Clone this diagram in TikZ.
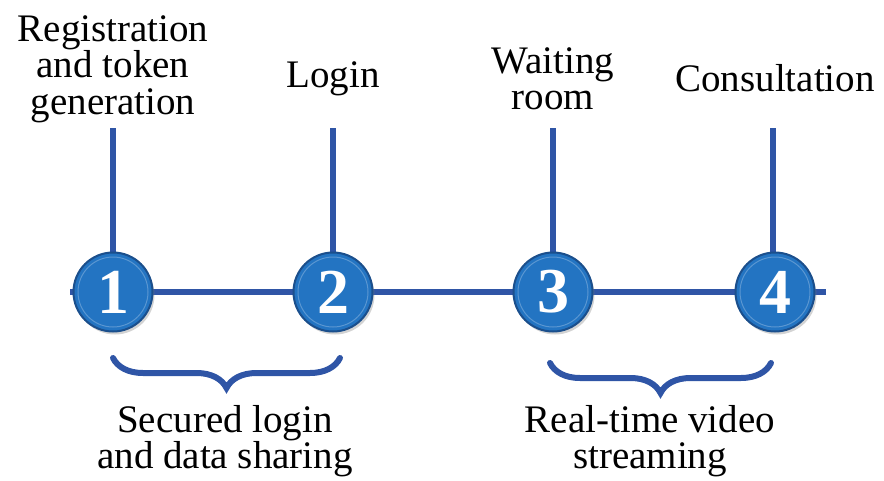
\documentclass[tikz,border=0pt]{standalone}
\usepackage{fontspec}
\setmainfont{Liberation Serif}
\usetikzlibrary{decorations.pathreplacing,shadows}
\definecolor{linkblue}{HTML}{2F55A6}
\definecolor{ballblue}{HTML}{2374C2}
\definecolor{ballrim}{HTML}{1B4F8C}
\begin{document}
\begin{tikzpicture}[x=1pt,y=-1pt,
  link/.style={draw=linkblue,line width=5.5pt},
  stepball/.style={circle,minimum size=79pt,inner sep=0pt,
    fill=ballblue,draw=ballrim,line width=2pt,
    drop shadow={shadow xshift=2pt,shadow yshift=-3pt,opacity=0.35},
    text=white,font=\fontsize{64}{64}\selectfont\bfseries},
  caption/.style={align=center,font=\fontsize{39}{36.5}\selectfont},
  bracket/.style={draw=linkblue,line width=6pt,line cap=round,
    decorate,decoration={brace,mirror,amplitude=30pt}}]
\useasboundingbox (0,0) rectangle (884,480);

% main timeline
\coordinate (L) at (70,292);
\coordinate (R) at (826,292);
\draw[link] (L) -- (R);

% vertical stems
\coordinate (t1) at (113,128);
\coordinate (t2) at (333,128);
\coordinate (t3) at (553,128);
\coordinate (t4) at (773,128);
\draw[link] (t1) -- (113,292);
\draw[link] (t2) -- (333,292);
\draw[link] (t3) -- (553,292);
\draw[link] (t4) -- (773,292);

% numbered steps
\node[stepball] (s1) at (113,292) {1};
\node[stepball] (s2) at (333,292) {2};
\node[stepball] (s3) at (553,292) {3};
\node[stepball] (s4) at (775,292) {4};
\foreach \s in {s1,s2,s3,s4}
  \draw[white,opacity=0.25,line width=1pt] (\s.center) circle (35pt);

% step titles
\node[caption] (c1) at (113,69) {Registration\\and token\\generation};
\node[caption] (c2) at (333,79) {Login};
\node[caption] (c3) at (553,79) {Waiting\\room};
\node[caption] (c4) at (775,78) {Consultation};

% grouping braces
\coordinate (b1l) at (113,358);
\coordinate (b1r) at (340,358);
\coordinate (b2l) at (550,363);
\coordinate (b2r) at (771,363);
\draw[bracket] (b1l) -- (b1r);
\draw[bracket] (b2l) -- (b2r);

\node[caption] (g1) at (225,441) {Secured login\\and data sharing};
\node[caption] (g2) at (650,441) {Real-time video\\streaming};
\end{tikzpicture}
\end{document}
